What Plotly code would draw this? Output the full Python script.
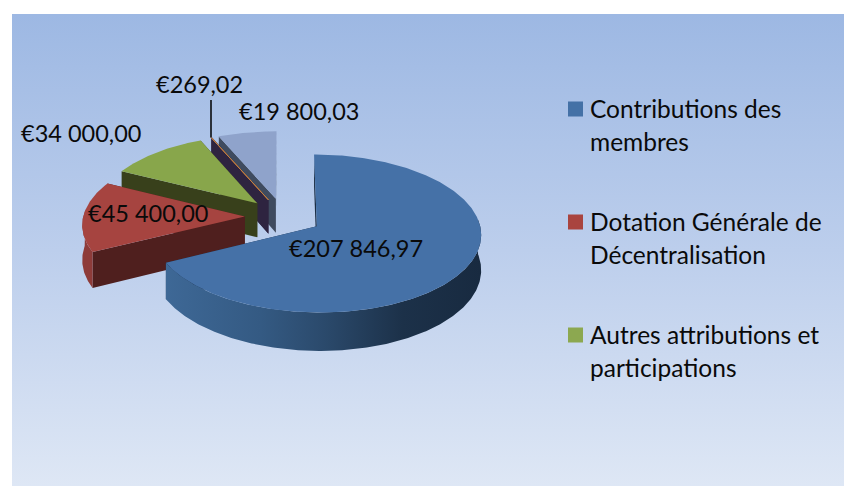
import math
import numpy as np
import plotly.graph_objects as go

# ---- data -------------------------------------------------------------
slice_values = [207846.97, 45400.00, 34000.00, 269.02, 19800.03]
slice_labels = ["€207 846,97", "€45 400,00", "€34 000,00", "€269,02", "€19 800,03"]
legend_lines = [["Contributions des", "membres"],
                ["Dotation Générale de", "Décentralisation"],
                ["Autres attributions et", "participations"]]

# ---- style ------------------------------------------------------------
top_colors = ["#4571A7", "#A64440", "#88A64B", "#C8803F", "#8FA3CB"]
wall_colors = ["#1B2E45", "#4F1F1E", "#38401B", "#2E2440", "#3F4B5F"]
legend_colors = ["#4471A6", "#A9443F", "#8CA850"]
label_centers = [(356, 248), (148, 213), (81, 133), (199, 84), (299, 111)]
FONT = "Lato"
FS_LABEL = 23.5
FS_LEGEND = 24.5

# ---- projection of the tilted pie into page pixels --------------------
CX, CY = 283.5, 216.5       # pie centre
AX, AZ = 161.5, 76.6        # horizontal / vertical radius
PERSP = 0.09                # perspective strength
EXPLODE = 0.24              # slice explosion, in radii
DEPTH = 34.5                # wall height


def proj(X, Z, drop=0.0):
    s = 1.0 / (1.0 - PERSP * Z)
    return CX + AX * X * s, CY + AZ * Z * s + drop * s


def rim(ox, oz, a0, a1, drop=0.0):
    n = max(2, int(abs(a1 - a0) * 1.5))
    th = np.radians(np.linspace(a0, a1, n))
    pts = [proj(ox + math.sin(t), oz - math.cos(t), drop) for t in th]
    return [p[0] for p in pts], [p[1] for p in pts]


fig = go.Figure()


def poly(xs, ys, color=None, gradient=None, line=None):
    fig.add_trace(go.Scatter(
        x=list(xs) + [xs[0]], y=list(ys) + [ys[0]], mode="lines", fill="toself",
        fillcolor=color, fillgradient=gradient,
        line=dict(width=line[1] if line else 0, color=line[0] if line else "rgba(0,0,0,0)"),
        hoverinfo="skip", showlegend=False))


# panel with its vertical gradient
poly([12, 844, 844, 12], [14, 14, 486, 486], gradient=dict(
    type="vertical",
    colorscale=[[0, "#DEE7F5"], [0.5, "#BCCEEC"], [1, "#9DB8E3"]]))

total = sum(slice_values)
angles = [0.0]
for v in slice_values:
    angles.append(angles[-1] + 360.0 * v / total)

slices = []
for i, v in enumerate(slice_values):
    a0, a1 = angles[i], angles[i + 1]
    mid = math.radians((a0 + a1) / 2)
    slices.append((i, a0, a1, EXPLODE * math.sin(mid), -EXPLODE * math.cos(mid)))

# paint from the back of the scene to the front
for i, a0, a1, ox, oz in [slices[4], slices[3], slices[2], slices[1], slices[0]]:
    apex = proj(ox, oz)
    apex_low = proj(ox, oz, DEPTH)
    # radial walls
    for a in (a1, a0):
        t = math.radians(a)
        p = proj(ox + math.sin(t), oz - math.cos(t))
        q = proj(ox + math.sin(t), oz - math.cos(t), DEPTH)
        poly([apex[0], p[0], q[0], apex_low[0]], [apex[1], p[1], q[1], apex_low[1]], wall_colors[i])
    # outer wall, only where it faces the viewer
    w0, w1 = max(a0, 85.0), min(a1, 275.0)
    if w1 > w0:
        xa, ya = rim(ox, oz, w0, w1)
        xb, yb = rim(ox, oz, w0, w1, DEPTH)
        if i == 0:
            poly(xa + xb[::-1], ya + yb[::-1], gradient=dict(
                type="horizontal",
                colorscale=[[0, "#3E6896"], [0.3, "#345A83"], [0.5, "#2B4A6C"],
                            [0.75, "#1C3149"], [1, "#182A40"]]))
        else:
            poly(xa + xb[::-1], ya + yb[::-1], "#8E3B39")
    # top face
    xt, yt = rim(ox, oz, a0, a1)
    poly([apex[0]] + xt, [apex[1]] + yt, top_colors[i],
         line=(top_colors[i], 1) if a1 - a0 < 1 else None)

# leader line of the tiny slice
_, a0, a1, ox, oz = slices[3]
t = math.radians((a0 + a1) / 2)
lx, ly = proj(ox + math.sin(t), oz - math.cos(t))
fig.add_trace(go.Scatter(x=[lx - 0.5, lx - 0.5], y=[100, ly], mode="lines",
                         line=dict(color="#000000", width=1.5), hoverinfo="skip", showlegend=False))

# legend swatches
legend_y = [109, 222, 335]
fig.add_trace(go.Scatter(x=[575.5] * 3, y=legend_y, mode="markers",
                         marker=dict(symbol="square", size=15, color=legend_colors, line=dict(width=0)),
                         hoverinfo="skip", showlegend=False))

annotations = []
for text, (x, y) in zip(slice_labels, label_centers):
    annotations.append(dict(x=x, y=y, text=text, showarrow=False, xanchor="center", yanchor="middle",
                            font=dict(family=FONT, size=FS_LABEL, color="#0A0A0A")))
for lines, y0 in zip(legend_lines, legend_y):
    for k, line in enumerate(lines):
        annotations.append(dict(x=590, y=y0 - 1 + 33 * k, text=line, showarrow=False, xanchor="left",
                                yanchor="middle", xshift=-2,
                                font=dict(family=FONT, size=FS_LEGEND, color="#0A0A0A")))

fig.update_layout(
    width=844, height=486, margin=dict(l=0, r=0, t=0, b=0),
    paper_bgcolor="#FFFFFF", plot_bgcolor="rgba(0,0,0,0)", showlegend=False,
    xaxis=dict(range=[0, 844], visible=False, fixedrange=True),
    yaxis=dict(range=[486, 0], visible=False, fixedrange=True),
    annotations=annotations)
fig.write_html("out.html", config=dict(displayModeBar=False),
               post_script="document.body.style.margin='0';document.documentElement.style.overflow='hidden';")
